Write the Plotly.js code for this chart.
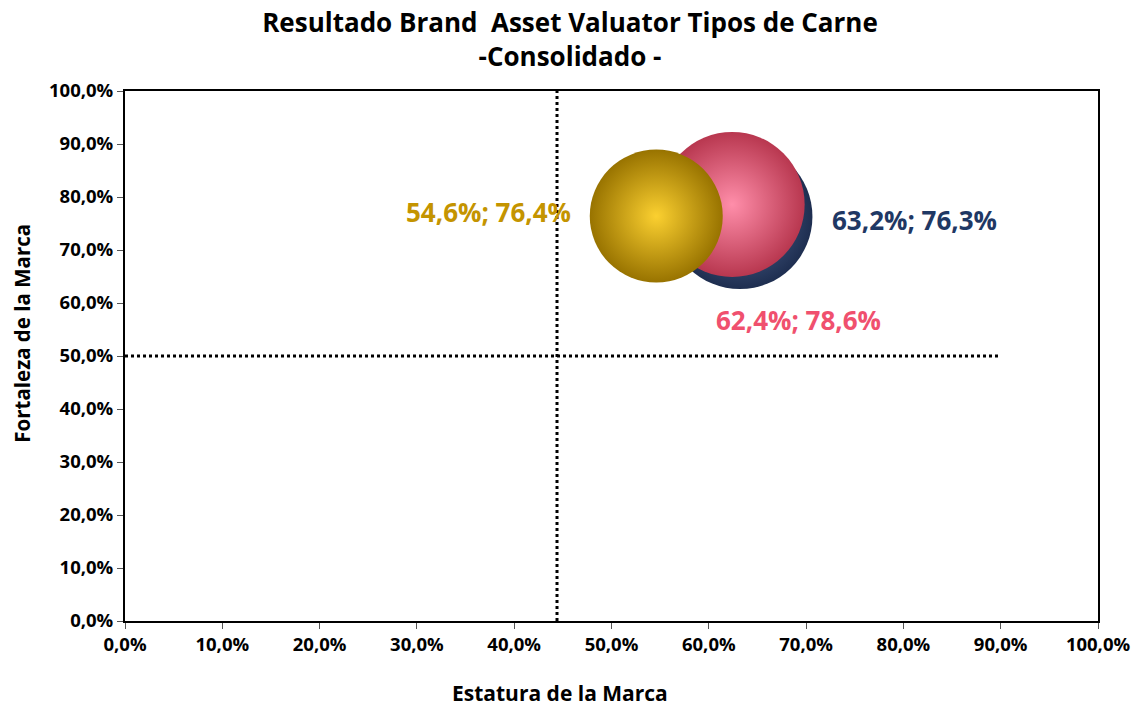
<!DOCTYPE html>
<html>
<head>
<meta charset="utf-8">
<script src="https://cdn.plot.ly/plotly-3.0.1.min.js"></script>
<style>html,body{margin:0;padding:0;background:#fff;}#chart{width:1140px;height:706px;}</style>
</head>
<body>
<div id="chart"></div>
<script>
// ---- data ----
const brands = ['Carne Navy', 'Carne Rosa', 'Carne Dorada'];
const estatura = [0.632, 0.624, 0.546];   // x: Estatura de la Marca
const fortaleza = [0.763, 0.786, 0.764];  // y: Fortaleza de la Marca
const bubbleSize = [145, 145, 133];       // relative bubble size
const refX = [0.444];                     // vertical reference
const refY = [0.5];                       // horizontal reference
const refYExtent = [0, 0.9];
const tickVals = [0, 0.1, 0.2, 0.3, 0.4, 0.5, 0.6, 0.7, 0.8, 0.9, 1.0];

// ---- styles ----
const edgeColors = ['#1e2e50', '#b8374f', '#987300'];
const centerColors = ['#5a72a0', '#ff8eaa', '#fbd030'];
const labelColors = ['#1f3864', '#f0506e', '#c49400'];
const FONT = '"Open Sans", Lato, Arial, sans-serif';

const traces = [];
// reference lines
traces.push({
  x: [refX[0], refX[0]], y: [0, 1], mode: 'lines', hoverinfo: 'skip', showlegend: false,
  line: {color: '#000', width: 3, dash: 'dot'}
});
traces.push({
  x: refYExtent, y: [refY[0], refY[0]], mode: 'lines', hoverinfo: 'skip', showlegend: false,
  line: {color: '#000', width: 3, dash: 'dot'}
});
// bubbles
for (let i = 0; i < brands.length; i++) {
  traces.push({
    x: [estatura[i]], y: [fortaleza[i]], name: brands[i], mode: 'markers', showlegend: false,
    marker: {
      size: [bubbleSize[i]], sizemode: 'diameter', color: edgeColors[i], opacity: 1,
      line: {width: 0},
      gradient: {type: 'radial', color: centerColors[i]}
    },
    cliponaxis: false
  });
}

const fmt = v => (v * 100).toFixed(1).replace('.', ',') + '%';
const labelShift = [[90, -3], [66, -116], [-83, 4]];
const labelAnchor = ['left', 'center', 'right'];
const annotations = brands.map((b, i) => ({
  x: estatura[i], y: fortaleza[i], xref: 'x', yref: 'y', showarrow: false,
  text: fmt(estatura[i]) + '; ' + fmt(fortaleza[i]),
  xanchor: labelAnchor[i], yanchor: 'middle',
  xshift: labelShift[i][0], yshift: labelShift[i][1],
  font: {family: FONT, size: 26, color: labelColors[i], weight: 'bold'}
}));
annotations.push({
  text: 'Estatura de la Marca', xref: 'paper', yref: 'paper', x: 0.447, y: 0,
  xanchor: 'center', yanchor: 'middle', yshift: -72, showarrow: false,
  font: {family: FONT, size: 21, color: '#000', weight: 'bold'}
});
annotations.push({
  text: 'Fortaleza de la Marca', xref: 'paper', yref: 'paper', x: 0, y: 0.542,
  xanchor: 'center', yanchor: 'middle', xshift: -103, textangle: -90, showarrow: false,
  font: {family: FONT, size: 20.5, color: '#000', weight: 'bold'}
});

const axisCommon = {
  range: [0, 1], tickvals: tickVals, tickformat: '.1%', showgrid: false, zeroline: false,
  showline: true, linecolor: '#000', linewidth: 2, mirror: true,
  ticks: 'outside', ticklen: 6, tickcolor: '#555', tickwidth: 1,
  tickfont: {family: FONT, size: 18.5, color: '#000', weight: 'bold'}
};

const layout = {
  width: 1140, height: 706,
  margin: {l: 125, r: 42, t: 91, b: 85},
  paper_bgcolor: '#fff', plot_bgcolor: '#fff',
  separators: ',.',
  title: {
    text: 'Resultado Brand  Asset Valuator Tipos de Carne<br>-Consolidado -',
    xref: 'container', x: 0.5, xanchor: 'center', yref: 'container', y: 0.955, yanchor: 'top',
    font: {family: FONT, size: 26, color: '#000', weight: 'bold'}
  },
  xaxis: Object.assign({}, axisCommon),
  yaxis: Object.assign({}, axisCommon),
  annotations: annotations,
  showlegend: false
};

Plotly.newPlot('chart', traces, layout, {displayModeBar: false, staticPlot: true});
</script>
</body>
</html>
